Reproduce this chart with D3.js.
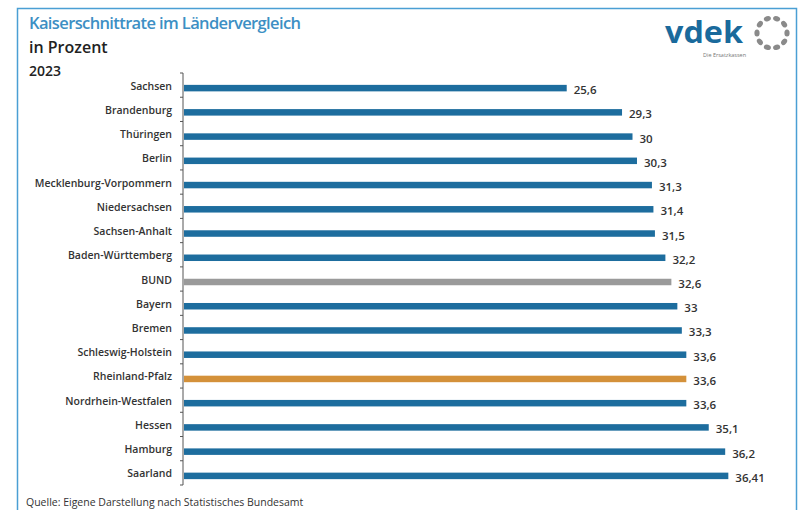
<!DOCTYPE html>
<html>
<head>
<meta charset="utf-8">
<script src="https://cdn.jsdelivr.net/npm/d3@7"></script>
<style>
  body { margin: 0; background: #fff; }
  text { font-family: "Open Sans", "Noto Sans", sans-serif; }
</style>
</head>
<body>
<div id="chart"></div>
<script>
// Bundesländer, sorted as in the source graphic
const states = [
  "Sachsen", "Brandenburg", "Thüringen", "Berlin", "Mecklenburg-Vorpommern",
  "Niedersachsen", "Sachsen-Anhalt", "Baden-Württemberg", "BUND", "Bayern",
  "Bremen", "Schleswig-Holstein", "Rheinland-Pfalz", "Nordrhein-Westfalen",
  "Hessen", "Hamburg", "Saarland"
];
const rates = [25.6, 29.3, 30, 30.3, 31.3, 31.4, 31.5, 32.2, 32.6, 33, 33.3, 33.6, 33.6, 33.6, 35.1, 36.2, 36.41];
const rateLabels = ["25,6", "29,3", "30", "30,3", "31,3", "31,4", "31,5", "32,2", "32,6", "33", "33,3", "33,6", "33,6", "33,6", "35,1", "36,2", "36,41"];

const width = 800, height = 510;
const colours = {base: "#1d6d9e", bund: "#9a9a9a", rlp: "#d4913a"};

const svg = d3.select("#chart").append("svg")
    .attr("width", width)
    .attr("height", height);

// frame around the graphic
svg.append("rect")
    .attr("x", 17.5).attr("y", 8.5)
    .attr("width", 779).attr("height", 520)
    .attr("fill", "#fff")
    .attr("stroke", "#4a9fd4")
    .attr("stroke-width", 1.5);

// titles
svg.append("text")
    .attr("x", 29).attr("y", 29)
    .attr("fill", "#3d8fc4")
    .attr("font-size", 16.5).attr("font-weight", 600)
    .attr("textLength", 272)
    .text("Kaiserschnittrate im Ländervergleich");
svg.append("text")
    .attr("x", 29).attr("y", 53)
    .attr("fill", "#222")
    .attr("font-size", 16).attr("font-weight", 600)
    .text("in Prozent");
svg.append("text")
    .attr("x", 29).attr("y", 76)
    .attr("fill", "#222")
    .attr("font-size", 14).attr("font-weight", 600)
    .text("2023");

// scales
const x = d3.scaleLinear().domain([0, 40]).range([184, 782]);
const y = d3.scaleBand().domain(states).range([73, 485]);

// axis (just the line and the small ticks between rows)
const axisG = svg.append("g");
axisG.append("line")
    .attr("x1", 183).attr("x2", 183)
    .attr("y1", y.range()[0]).attr("y2", y.range()[1])
    .attr("stroke", "#555").attr("stroke-width", 1);
axisG.selectAll(".tick")
  .data(d3.range(states.length + 1))
  .join("line")
    .attr("x1", 180).attr("x2", 183)
    .attr("y1", i => y.range()[0] + i * y.step())
    .attr("y2", i => y.range()[0] + i * y.step())
    .attr("stroke", "#555");

const barH = 6.5;
const fillFor = d => d === "BUND" ? colours.bund : (d === "Rheinland-Pfalz" ? colours.rlp : colours.base);

svg.append("g")
  .selectAll("rect")
  .data(states)
  .join("rect")
    .attr("x", x(0))
    .attr("y", d => y(d) + y.bandwidth() / 2 + 3 - barH / 2)
    .attr("width", (d, i) => x(rates[i]) - x(0))
    .attr("height", barH)
    .attr("fill", fillFor);

// category labels
svg.append("g")
  .selectAll("text")
  .data(states)
  .join("text")
    .attr("x", 172)
    .attr("y", d => y(d) + y.bandwidth() / 2 + 4.5)
    .attr("text-anchor", "end")
    .attr("font-size", 10.5)
    .attr("font-weight", 600)
    .attr("fill", "#333")
    .text(d => d);

// value labels
svg.append("g")
  .selectAll("text")
  .data(states)
  .join("text")
    .attr("x", (d, i) => x(rates[i]) + 7)
    .attr("y", d => y(d) + y.bandwidth() / 2 + 9)
    .attr("font-size", 11.5)
    .attr("font-weight", 600)
    .attr("fill", "#333")
    .text((d, i) => rateLabels[i]);

// source
svg.append("text")
    .attr("x", 26).attr("y", 506)
    .attr("font-size", 10.5)
    .attr("fill", "#333")
    .text("Quelle: Eigene Darstellung nach Statistisches Bundesamt");

// vdek logo
const logo = svg.append("g");
logo.append("text")
    .attr("x", 665).attr("y", 43)
    .attr("fill", "#1a6a9c")
    .attr("font-size", 30).attr("font-weight", 700)
    .attr("font-family", "'DejaVu Sans', sans-serif")
    .attr("textLength", 78)
    .attr("lengthAdjust", "spacingAndGlyphs")
    .text("vdek");
logo.append("text")
    .attr("x", 703).attr("y", 57)
    .attr("fill", "#777")
    .attr("font-size", 5.5)
    .text("Die Ersatzkassen");
const ring = {cx: 772, cy: 33, r: 15};
logo.selectAll("ellipse")
  .data(d3.range(10))
  .join("ellipse")
    .attr("cx", 0).attr("cy", 0)
    .attr("rx", 3.6).attr("ry", 2.6)
    .attr("transform", i => {
      const a = i * 36;
      const px = ring.cx + ring.r * Math.cos(a * Math.PI / 180);
      const py = ring.cy + ring.r * Math.sin(a * Math.PI / 180);
      return `translate(${px},${py}) rotate(${a + 90})`;
    })
    .attr("fill", "#8a8a8a");
</script>
</body>
</html>
